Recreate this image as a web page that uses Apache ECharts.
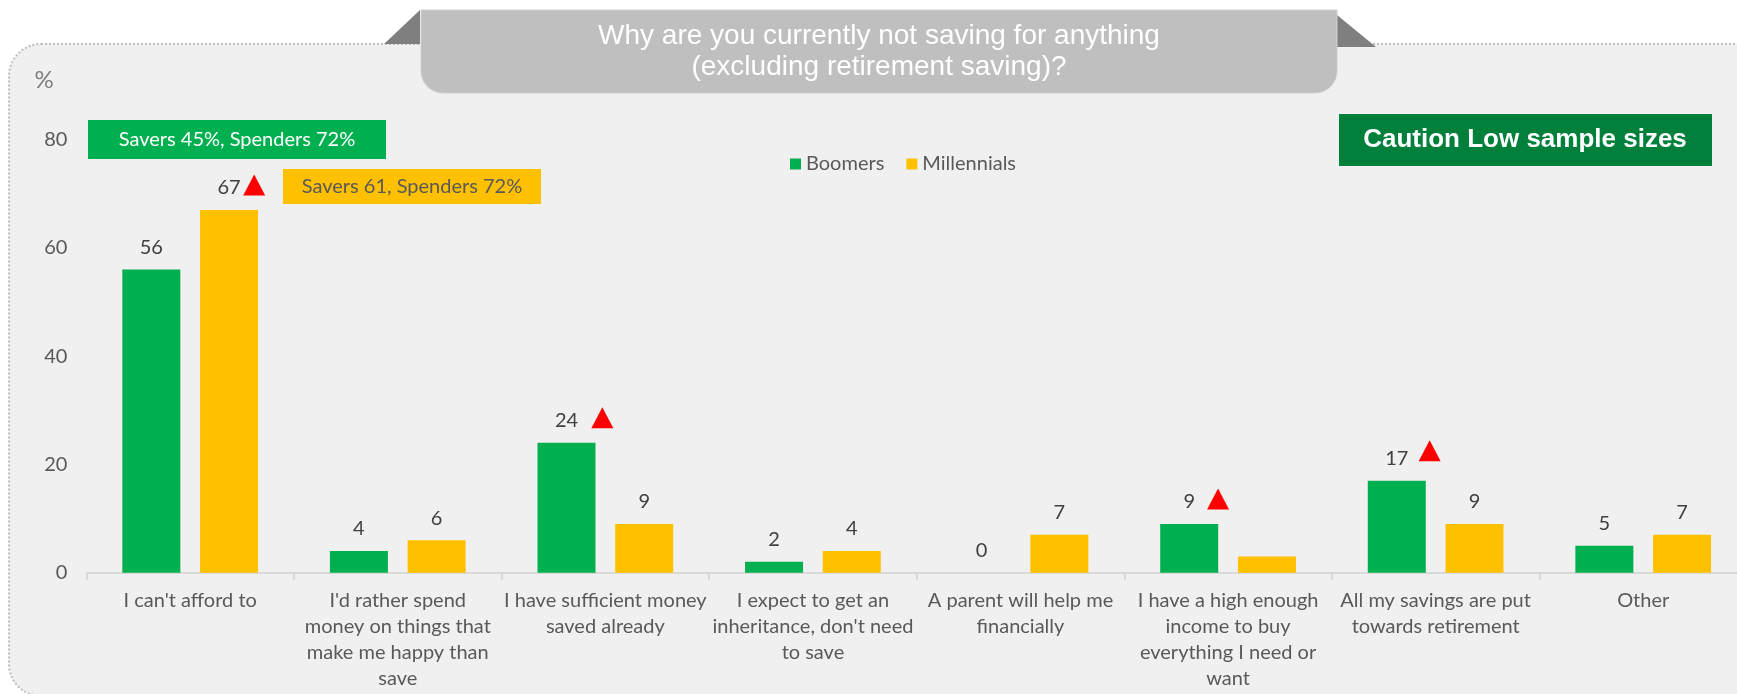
<!DOCTYPE html>
<html>
<head>
<meta charset="utf-8">
<script src="https://cdn.jsdelivr.net/npm/echarts@6/dist/echarts.min.js"></script>
<style>
  html, body { margin: 0; padding: 0; background: #ffffff; }
  #chart { width: 1737px; height: 694px; }
</style>
</head>
<body>
<div id="chart"></div>
<script>
// Reasons for not saving, by generation (%)
const categories = [
  "I can't afford to",
  "I'd rather spend\nmoney on things that\nmake me happy than\nsave",
  "I have sufficient money\nsaved already",
  "I expect to get an\ninheritance, don't need\nto save",
  "A parent will help me\nfinancially",
  "I have a high enough\nincome to buy\neverything I need or\nwant",
  "All my savings are put\ntowards retirement",
  "Other"
];
const boomers = [56, 4, 24, 2, 0, 9, 17, 5];
const millennials = [67, 6, 9, 4, 7, 3, 9, 7];
// the Millennials bar for "high enough income" carries no value label
const millennialsLabelled = [true, true, true, true, true, false, true, true];
// significantly higher than the other generation (red triangle)
const boomersFlag = [false, false, true, false, false, true, true, false];
const millennialsFlag = [true, false, false, false, false, false, false, false];
const yTicks = [0, 20, 40, 60, 80];

const GREEN = '#00B050';
const YELLOW = '#FFC000';
const TEXT = '#595959';
const FONT = 'Lato, "Open Sans", sans-serif';
const ARIAL = '"Liberation Sans", Arial, sans-serif';

// triangle placement next to each flagged value label
const flagShift = {
  Boomers: { 2: [-3, -25], 5: [-10, -25], 6: [-6, -30] },
  Millennials: { 0: [64, -25] }
};

function flagData(values, flags, name) {
  const out = [];
  values.forEach((v, i) => {
    if (flags[i]) {
      out.push({ value: [i, v], symbolOffset: flagShift[name][i] });
    }
  });
  return out;
}

const valueLabel = {
  show: true,
  position: 'top',
  distance: 12,
  color: '#404040',
  fontFamily: FONT,
  fontSize: 20,
  lineHeight: 20
};

const chart = echarts.init(document.getElementById('chart'));

chart.setOption({
  animation: false,
  backgroundColor: '#ffffff',
  // the plot runs slightly past the right edge of the canvas
  grid: {
    left: 86.4, width: 1660.6, top: 139.6, bottom: 121.3,
    containLabel: false, outerBoundsMode: 'none'
  },
  legend: {
    data: ['Boomers', 'Millennials'],
    left: 785,
    top: 147,
    icon: 'rect',
    itemWidth: 11,
    itemHeight: 11,
    itemGap: 22,
    textStyle: { fontFamily: FONT, fontSize: 20, color: TEXT, lineHeight: 24 }
  },
  xAxis: {
    type: 'category',
    data: categories,
    axisLine: { lineStyle: { color: '#d9d9d9', width: 2 } },
    axisTick: { show: true, length: 7, lineStyle: { color: '#d9d9d9', width: 2 } },
    axisLabel: {
      interval: 0,
      margin: 15,
      fontFamily: FONT,
      fontSize: 20,
      lineHeight: 26,
      color: TEXT
    }
  },
  yAxis: {
    type: 'value',
    min: yTicks[0],
    max: yTicks[yTicks.length - 1],
    interval: yTicks[1] - yTicks[0],
    splitLine: { show: false },
    axisLine: { show: false },
    axisTick: { show: false },
    axisLabel: { margin: 19, fontFamily: FONT, fontSize: 20, color: TEXT }
  },
  series: [
    {
      name: 'Boomers',
      type: 'bar',
      data: boomers,
      barWidth: 58,
      barGap: '34%',
      itemStyle: { color: GREEN },
      label: valueLabel
    },
    {
      name: 'Millennials',
      type: 'bar',
      data: millennials.map((v, i) => ({ value: v, label: { show: millennialsLabelled[i] } })),
      barWidth: 58,
      itemStyle: { color: YELLOW },
      label: valueLabel
    },
    {
      name: 'BoomersFlag',
      type: 'scatter',
      symbol: 'triangle',
      symbolSize: [22, 21],
      itemStyle: { color: '#FF0000', opacity: 1 },
      data: flagData(boomers, boomersFlag, 'Boomers'),
      z: 5,
      silent: true
    },
    {
      name: 'MillennialsFlag',
      type: 'scatter',
      symbol: 'triangle',
      symbolSize: [22, 21],
      itemStyle: { color: '#FF0000', opacity: 1 },
      data: flagData(millennials, millennialsFlag, 'Millennials'),
      z: 5,
      silent: true
    }
  ],
  graphic: [
    // panel
    {
      type: 'rect', z: -10, silent: true,
      shape: { x: 9, y: 44, width: 1760, height: 652, r: 32 },
      style: { fill: '#f0f0f0', stroke: '#bdbdbd', lineWidth: 2, lineDash: [2, 2] }
    },
    // question tab
    {
      type: 'polygon', z: 90, silent: true,
      shape: { points: [[420, 10], [384, 44], [420, 44]] },
      style: { fill: '#7f7f7f' }
    },
    {
      type: 'polygon', z: 90, silent: true,
      shape: { points: [[1337, 15], [1337, 47], [1376, 47]] },
      style: { fill: '#7f7f7f' }
    },
    {
      type: 'rect', z: 91, silent: true,
      shape: { x: 421, y: 10, width: 916, height: 83, r: [0, 0, 22, 22] },
      style: { fill: '#bfbfbf', stroke: '#d0d0d0', lineWidth: 1 }
    },
    {
      type: 'text', z: 92, silent: true,
      style: {
        x: 879, y: 36, text: 'Why are you currently not saving for anything',
        align: 'center', verticalAlign: 'middle',
        fill: '#ffffff', font: '28px ' + ARIAL
      }
    },
    {
      type: 'text', z: 92, silent: true,
      style: {
        x: 879, y: 67, text: '(excluding retirement saving)?',
        align: 'center', verticalAlign: 'middle',
        fill: '#ffffff', font: '28px ' + ARIAL
      }
    },
    // axis unit
    {
      type: 'text', z: 50, silent: true,
      style: {
        x: 44, y: 80, text: '%', align: 'center', verticalAlign: 'middle',
        fill: '#7f7f7f', font: '24px ' + FONT
      }
    },
    // segment notes
    {
      type: 'rect', z: 50, silent: true,
      shape: { x: 88, y: 120, width: 298, height: 39 },
      style: { fill: GREEN }
    },
    {
      type: 'text', z: 51, silent: true,
      style: {
        x: 237, y: 140, text: 'Savers 45%, Spenders 72%', align: 'center', verticalAlign: 'middle',
        fill: '#ffffff', font: '20px ' + FONT
      }
    },
    {
      type: 'rect', z: 50, silent: true,
      shape: { x: 283, y: 169, width: 258, height: 35 },
      style: { fill: YELLOW }
    },
    {
      type: 'text', z: 51, silent: true,
      style: {
        x: 412, y: 187, text: 'Savers 61, Spenders 72%', align: 'center', verticalAlign: 'middle',
        fill: TEXT, font: '20px ' + FONT
      }
    },
    // caution badge
    {
      type: 'rect', z: 50, silent: true,
      shape: { x: 1339, y: 114, width: 373, height: 52 },
      style: { fill: '#00803A' }
    },
    {
      type: 'text', z: 51, silent: true,
      style: {
        x: 1525, y: 140, text: 'Caution Low sample sizes', align: 'center', verticalAlign: 'middle',
        fill: '#ffffff', font: 'bold 26px ' + ARIAL
      }
    }
  ]
});
</script>
</body>
</html>
